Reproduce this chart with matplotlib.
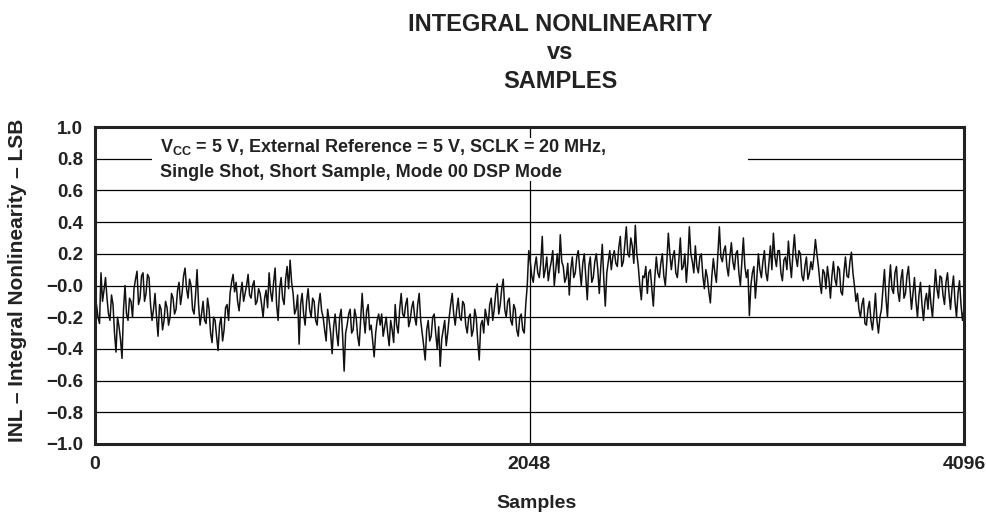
import numpy as np
import matplotlib
matplotlib.use("Agg")
import matplotlib.pyplot as plt
from matplotlib.patches import Rectangle

# ---- data, one value every ~7 samples ----
seg_a = [-0.16, -0.12, -0.20, -0.24, 0.08, -0.10, -0.03, 0.05, -0.08, -0.18,
         -0.22, -0.06, -0.12, -0.30, -0.42, -0.20, -0.26, -0.34, -0.46, -0.15,
         0.00, -0.18, -0.22, -0.08, -0.10, -0.20, -0.02, 0.04, 0.09, -0.12,
         -0.08, 0.06, 0.08, -0.10, -0.05, 0.07, 0.05, -0.12, -0.22, -0.15,
         -0.05, -0.20, -0.32, -0.12, -0.15, -0.28, -0.22, -0.10, -0.14, -0.25,
         -0.20, -0.05, -0.08, -0.18, -0.15, -0.03, 0.02, -0.12, -0.05, 0.06,
         0.11, -0.02, -0.08, 0.04, 0.00, -0.15, -0.18, -0.06, 0.10, -0.12,
         -0.25, -0.18, -0.10, -0.22, -0.24, -0.08, -0.15, -0.30, -0.36, -0.20,
         -0.22, -0.32, -0.41, -0.25, -0.20, -0.35, -0.28, -0.14, -0.12, -0.22,
         -0.05, 0.02, 0.07, -0.04, 0.02, -0.10]
seg_b = [-0.16, -0.05, 0.02, -0.10, -0.05, 0.00, 0.07, -0.06, -0.08, 0.00,
         0.03, -0.12, -0.10, -0.02, -0.05, -0.12, -0.20, -0.08, -0.03, -0.14,
         0.08, -0.04, -0.10, 0.02, 0.11, -0.12, -0.22, -0.02, 0.05, -0.08,
         -0.12, 0.04, 0.12, -0.02, 0.16, 0.02, -0.05, -0.18, -0.15, -0.06,
         -0.37, -0.12, -0.05, -0.18, -0.25, -0.10, -0.02, -0.15, -0.20, -0.08,
         -0.10, -0.22, -0.25, -0.12, -0.05, -0.16, -0.20, -0.28, -0.35, -0.15,
         -0.22, -0.30, -0.43, -0.26, -0.18, -0.30, -0.38, -0.20, -0.15, -0.32,
         -0.54, -0.30, -0.25, -0.18, -0.15, -0.30, -0.28, -0.15, -0.20, -0.32,
         -0.38, -0.22, -0.05, -0.20, -0.30, -0.16, -0.12, -0.28, -0.25, -0.35,
         -0.45, -0.30, -0.22, -0.18]
seg_c = [-0.25, -0.18, -0.32, -0.26, -0.20, -0.30, -0.38, -0.22, -0.28, -0.36,
         -0.12, -0.25, -0.30, -0.15, -0.05, -0.18, -0.20, -0.12, -0.08, -0.26,
         -0.22, -0.14, -0.10, -0.20, -0.25, -0.12, -0.05, -0.22, -0.30, -0.38,
         -0.47, -0.28, -0.22, -0.35, -0.32, -0.20, -0.18, -0.30, -0.40, -0.26,
         -0.51, -0.34, -0.28, -0.22, -0.38, -0.30, -0.20, -0.12, -0.05, -0.18,
         -0.25, -0.15, -0.08, -0.20, -0.22, -0.10, -0.12, -0.25, -0.30, -0.20,
         -0.18, -0.32, -0.28, -0.15, -0.20, -0.35, -0.47, -0.25, -0.22, -0.30,
         -0.15, -0.20, -0.25, -0.12, -0.08, -0.22, -0.15, -0.05, 0.01, -0.18,
         -0.12, -0.02, 0.04, -0.15, -0.20, -0.10, -0.08, -0.22, -0.25, -0.12,
         -0.15, -0.28, -0.32, -0.20, -0.18, -0.28, -0.30, -0.12, 0.00, 0.22]
seg_d = [0.15, 0.06, 0.02, 0.12, 0.18, 0.08, 0.05, 0.14, 0.31, 0.05,
         0.10, 0.18, 0.03, 0.10, 0.15, 0.22, 0.00, 0.10, 0.20, 0.08,
         0.32, 0.15, 0.12, 0.02, 0.05, 0.14, -0.06, 0.10, 0.18, 0.05,
         0.08, 0.18, 0.22, 0.10, 0.00, 0.14, 0.20, 0.06, -0.09, 0.12,
         0.18, 0.02, 0.05, 0.15, 0.20, 0.10, -0.05, 0.12, 0.26, 0.04,
         -0.13, 0.08, 0.15, 0.22, 0.10, 0.18, 0.22, 0.14, 0.12, 0.24,
         0.31, 0.12, 0.15, 0.26, 0.37, 0.20, 0.18, 0.30, 0.25, 0.14,
         0.38, 0.20, 0.12, 0.00, -0.09, 0.06, 0.05, 0.12, -0.05, 0.08,
         0.10, -0.02, -0.13, 0.05, 0.18, 0.08, 0.05, 0.14, 0.20, 0.06,
         0.00, 0.15, 0.33, 0.20]
seg_e = [0.10, 0.18, 0.22, 0.08, 0.05, 0.16, 0.30, 0.10, 0.12, 0.20,
         0.02, 0.15, 0.37, 0.20, 0.15, 0.08, 0.25, 0.12, 0.08, 0.18,
         0.20, 0.06, -0.02, 0.10, 0.05, -0.04, -0.11, 0.06, 0.17, 0.08,
         0.02, 0.20, 0.37, 0.18, 0.15, 0.22, 0.25, 0.12, 0.06, 0.18,
         0.27, 0.15, 0.10, 0.20, 0.22, 0.08, 0.00, 0.15, 0.30, 0.12,
         0.05, 0.10, -0.19, 0.00, 0.08, 0.12, -0.08, 0.05, 0.20, 0.10,
         0.05, 0.15, 0.22, 0.08, 0.03, 0.14, 0.25, 0.10, 0.33, 0.18,
         0.12, 0.22, 0.22, 0.08, 0.03, 0.16, 0.18, 0.10, 0.28, 0.15,
         0.05, 0.20, 0.32, 0.18, 0.12, 0.22, 0.20, 0.06, 0.03, 0.12,
         0.18, 0.04, 0.08, 0.15]
seg_f = [0.10, 0.18, 0.29, 0.20, 0.12, 0.02, -0.05, 0.10, 0.08, -0.02,
         0.12, 0.04, -0.08, 0.06, 0.15, 0.04, 0.00, 0.12, 0.10, -0.04,
         -0.06, 0.08, 0.18, 0.06, 0.05, 0.15, 0.21, 0.08, 0.00, -0.10,
         -0.05, -0.15, -0.20, -0.12, -0.08, -0.24, -0.25, -0.15, -0.10, -0.22,
         -0.28, -0.18, -0.05, -0.22, -0.30, -0.20, -0.15, -0.02, 0.10, -0.08,
         -0.20, 0.00, 0.13, -0.02, -0.05, 0.08, 0.12, -0.04, -0.10, 0.04,
         0.10, -0.08, -0.05, 0.06, 0.12, -0.02, -0.15, -0.05, 0.05, -0.10,
         -0.20, -0.06, 0.02, -0.12, -0.22, -0.10, -0.05, -0.15, 0.00, -0.12,
         -0.20, -0.05, 0.10, -0.02, -0.08, 0.06, 0.05, -0.06, -0.12, 0.02,
         0.08, -0.05, -0.15, -0.02, 0.06, -0.10, -0.20, -0.05, 0.03, -0.12,
         -0.22, -0.15]

y_ticks = [1.0, 0.8, 0.6, 0.4, 0.2, 0.0, -0.2, -0.4, -0.6, -0.8, -1.0]
y_tick_labels = ["1.0", "0.8", "0.6", "0.4", "0.2", "\u22120.0", "\u22120.2",
                 "\u22120.4", "\u22120.6", "\u22120.8", "\u22121.0"]
x_ticks = [0, 2048, 4096]
x_tick_labels = ["0", "2048", "4096"]

title_lines = ["INTEGRAL NONLINEARITY", "vs", "SAMPLES"]
note_line1 = r"$\mathbf{V_{CC}}$ = 5 V, External Reference = 5 V, SCLK = 20 MHz,"
note_line2 = "Single Shot, Short Sample, Mode 00 DSP Mode"

inl = np.array(seg_a + seg_b + seg_c + seg_d + seg_e + seg_f)
samples = np.linspace(0, 4096, len(inl))

# ---- style ----
plt.rcParams["font.family"] = ["Liberation Sans", "DejaVu Sans"]
plt.rcParams["font.weight"] = "bold"
plt.rcParams["mathtext.fontset"] = "custom"
plt.rcParams["mathtext.bf"] = "Liberation Sans:bold"
plt.rcParams["mathtext.rm"] = "Liberation Sans:bold"

W, H = 987, 512
fig = plt.figure(figsize=(W / 100, H / 100), dpi=100)
ax = fig.add_axes([95 / W, 1 - 444 / H, (964 - 95) / W, (444 - 127) / H])

# grid lines
for yv in y_ticks[1:-1]:
    ax.axhline(yv, color="black", lw=0.9, zorder=1)
ax.axvline(2048, color="black", lw=0.9, zorder=1)

# white note box
ax.add_patch(Rectangle((0.0656, 0.83), 0.686, 0.135, transform=ax.transAxes,
                       facecolor="white", edgecolor="none", zorder=2))
ax.text(0.075, 0.921, note_line1, transform=ax.transAxes, fontsize=13,
        fontweight="bold", va="baseline", ha="left", zorder=3, color="#222222")
ax.text(0.075, 0.842, note_line2, transform=ax.transAxes, fontsize=13,
        fontweight="bold", va="baseline", ha="left", zorder=3, color="#222222")

ax.plot(samples, inl, color="#111111", lw=1.1, zorder=4)

ax.set_xlim(0, 4096)
ax.set_ylim(-1.0, 1.0)
ax.set_yticks(y_ticks)
ax.set_yticklabels(y_tick_labels, fontsize=13.5, fontweight="bold", color="#222222")
ax.set_xticks(x_ticks)
ax.set_xticklabels(x_tick_labels, fontsize=14, fontweight="bold", color="#222222")
ax.tick_params(axis="both", length=0)
ax.tick_params(axis="y", pad=8.5)
ax.tick_params(axis="x", pad=8.5)
for sp in ax.spines.values():
    sp.set_linewidth(2.2)
    sp.set_color("#222222")
    sp.set_zorder(5)

for t, base in zip(title_lines, [31, 59, 88]):
    fig.text(560 / W, 1 - base / H, t, ha="center", va="baseline", fontsize=17,
             fontweight="bold", color="#222222")

fig.text(537 / W, 1 - 508 / H, "Samples", ha="center", va="baseline",
         fontsize=14, fontweight="bold", color="#222222")
fig.text(18 / W, 1 - 280 / H, "INL \u2013 Integral Nonlinearity \u2013 LSB",
         ha="center", va="center", rotation=90, fontsize=15, fontweight="bold",
         color="#222222")

fig.savefig("out.png", dpi=100)
